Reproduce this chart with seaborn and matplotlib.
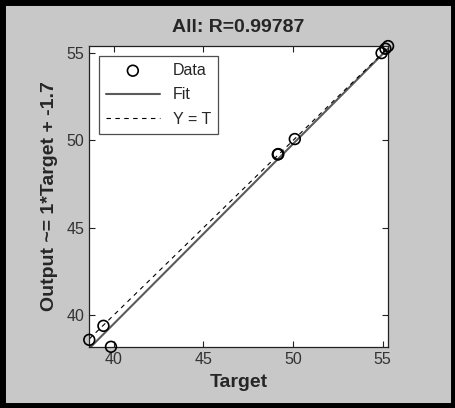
import numpy as np
import pandas as pd
import matplotlib
matplotlib.use("Agg")
import matplotlib.pyplot as plt
import seaborn as sns
from matplotlib.patches import Rectangle

# ---------- data ----------
target = [38.64, 39.43, 39.85, 49.15, 49.18, 50.10, 54.94, 55.15, 55.30]
output = [38.59, 39.39, 38.19, 49.20, 49.22, 50.08, 55.00, 55.25, 55.40]
fit_slope = 1.03
fit_offset = -1.7
title_text = "All: R=0.99787"
xticks = [40, 45, 50, 55]
yticks = [40, 45, 50, 55]

df = pd.DataFrame({"Target": target, "Output": output})
xmin, xmax = min(target), max(target)
ymin, ymax = min(output), max(output)
line_x = np.array([xmin, xmax])
lines = pd.DataFrame({
    "x": np.concatenate([line_x, line_x]),
    "y": np.concatenate([fit_slope * line_x + fit_offset, line_x]),
    "kind": ["Fit", "Fit", "Y = T", "Y = T"],
})

sns.set_style("ticks")
plt.rcParams["font.family"] = ["Liberation Sans", "DejaVu Sans"]

bg = "#c8c8c8"
fig = plt.figure(figsize=(4.56, 4.08), dpi=100, facecolor=bg)
ax = fig.add_axes([0.195, 0.150, 0.656, 0.737])
ax.set_facecolor("white")

# outer dark frame like the screenshot
fig.patches.append(Rectangle((0.004, 0.004), 0.992, 0.990, transform=fig.transFigure,
                             fill=False, edgecolor="black", linewidth=5, zorder=10))

sns.lineplot(data=lines[lines.kind == "Fit"], x="x", y="y", ax=ax,
             color="#5a5a5a", linewidth=1.5, label="Fit", zorder=2)
sns.lineplot(data=lines[lines.kind == "Y = T"], x="x", y="y", ax=ax,
             color="black", linewidth=0.8, linestyle=(0, (4, 4)), label="Y = T", zorder=2)
sns.scatterplot(data=df, x="Target", y="Output", ax=ax, marker="o", s=60,
                facecolor="none", edgecolor="black", linewidth=1.2, label="Data",
                zorder=3, clip_on=False)

ax.set_xlim(xmin - 0.02, xmax)
ax.set_ylim(ymin, ymax)
ax.set_xticks(xticks)
ax.set_yticks(yticks)
ax.tick_params(direction="in", top=True, right=True, length=4, width=0.8,
               labelsize=11.5, labelcolor="#333333", color="#222222")
for sp in ax.spines.values():
    sp.set_visible(True)
    sp.set_color("#222222")
    sp.set_linewidth(0.9)

ax.set_title(title_text, fontsize=14, fontweight="bold", pad=10)
ax.set_xlabel("Target", fontsize=14, fontweight="bold", labelpad=5)
ax.set_ylabel("Output ~= 1*Target + -1.7", fontsize=14, fontweight="bold", labelpad=6)

h, l = ax.get_legend_handles_labels()
order = [l.index("Data"), l.index("Fit"), l.index("Y = T")]
leg = ax.legend([h[i] for i in order], [l[i] for i in order], loc="upper left",
                fontsize=11.5, frameon=True, fancybox=False, edgecolor="#222222",
                borderaxespad=0.6, handlelength=3.4, labelspacing=0.6,
                borderpad=0.45)
leg.get_frame().set_linewidth(0.9)

fig.savefig("out.png", dpi=100, facecolor=bg)
